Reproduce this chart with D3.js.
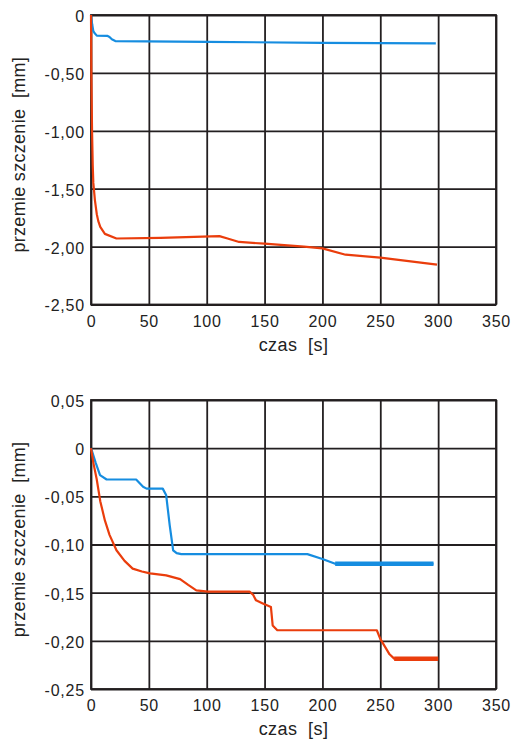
<!DOCTYPE html>
<html>
<head>
<meta charset="utf-8">
<script src="https://cdn.jsdelivr.net/npm/d3@7"></script>
<style>
    html, body { margin: 0; padding: 0; background: #fff; }
    svg { display: block; }
</style>
</head>
<body>
<div id="chart"></div>
<script>
// os czasu, wspolna dla obu wykresow
const timeTicks = [0, 50, 100, 150, 200, 250, 300, 350];

// wykres gorny
const topTicks = [0, -0.5, -1.0, -1.5, -2.0, -2.5];
const topBlue = [
    [0, 0], [1, -0.08], [2, -0.14], [3.4, -0.16], [5, -0.178], [14, -0.18],
    [16, -0.19], [18, -0.21], [21, -0.225], [100, -0.232], [200, -0.24], [298, -0.245]
];
const topRed = [
    [0, 0], [0.3, -0.5], [0.9, -1.0], [1.5, -1.3], [2, -1.45], [3.4, -1.6],
    [5, -1.72], [6.3, -1.78], [8, -1.83], [12, -1.89], [22, -1.93], [60, -1.925],
    [111, -1.91], [118, -1.93], [128, -1.96], [150, -1.975], [184, -2.0],
    [200, -2.015], [220, -2.07], [250, -2.095], [299, -2.155]
];

// wykres dolny
const bottomTicks = [0.05, 0, -0.05, -0.10, -0.15, -0.20, -0.25];
const bottomBlue = [
    [0, 0], [4, -0.015], [7.8, -0.028], [13.5, -0.0325], [39, -0.0325], [45, -0.04],
    [48, -0.042], [62, -0.042], [65, -0.049], [68, -0.08], [71, -0.106], [74, -0.109],
    [78, -0.11], [187, -0.11], [200, -0.115], [211, -0.12], [296, -0.12]
];
const bottomRed = [
    [0, 0], [2, -0.015], [4.9, -0.032], [8, -0.055], [12, -0.075], [16, -0.09],
    [22, -0.106], [29, -0.117], [36, -0.125], [44, -0.128], [51, -0.13], [65, -0.132],
    [77, -0.136], [84, -0.142], [91, -0.1477], [101, -0.149], [137, -0.149],
    [140, -0.152], [142.6, -0.158], [148, -0.161], [155.5, -0.165], [157, -0.184],
    [161, -0.189], [247, -0.189], [250, -0.198], [254, -0.206], [258, -0.214],
    [262, -0.2185], [300, -0.2185]
];

const width = 512;
const height = 742;
const blue = '#168de0';
const red = '#ea3d0c';
const gridColor = '#231f20';
const font = '"Liberation Sans", Arial, sans-serif';

const plEN = d3.formatLocale({ decimal: ',', thousands: ' ', grouping: [3], currency: ['', ' zł'], minus: '-' });
const fmt2 = plEN.format('.2f');
const yFormat = v => Math.abs(v) < 1e-9 ? '0' : fmt2(v);

const svg = d3.select('#chart').append('svg')
    .attr('width', width)
    .attr('height', height)
    .attr('viewBox', [0, 0, width, height]);

svg.append('rect').attr('width', width).attr('height', height).attr('fill', '#fff');

function drawPanel({ top, bottom, yTicks, series, thickFrom }) {
    const left = 91, right = 496;
    const x = d3.scaleLinear().domain([0, 350]).range([left, right]);
    const y = d3.scaleLinear().domain(d3.extent(yTicks)).range([bottom, top]);
    const g = svg.append('g');

    // siatka + opisy osi X
    g.append('g')
        .attr('transform', `translate(0,${bottom})`)
        .call(d3.axisBottom(x).tickValues(timeTicks).tickSize(-(bottom - top)).tickPadding(11).tickFormat(d3.format('d')))
        .call(a => {
            a.select('.domain').remove();
            a.selectAll('.tick line').attr('stroke', gridColor).attr('stroke-width', 1.8);
            a.selectAll('.tick text')
                .attr('fill', '#222')
                .attr('font-family', font)
                .attr('font-size', 16)
                .attr('letter-spacing', 0.8);
        });

    // siatka + opisy osi Y
    g.append('g')
        .attr('transform', `translate(${left},0)`)
        .call(d3.axisLeft(y).tickValues(yTicks).tickSize(-(right - left)).tickPadding(6).tickFormat(yFormat))
        .call(a => {
            a.select('.domain').remove();
            a.selectAll('.tick line').attr('stroke', gridColor).attr('stroke-width', 1.8);
            a.selectAll('.tick text')
                .attr('fill', '#222')
                .attr('font-family', font)
                .attr('font-size', 16)
                .attr('letter-spacing', 0.8)
                .attr('dy', '0.4em');
        });

    g.append('rect')
        .attr('x', left).attr('y', top)
        .attr('width', right - left).attr('height', bottom - top)
        .attr('fill', 'none')
        .attr('stroke', gridColor)
        .attr('stroke-width', 1.8);

    const line = d3.line().x(d => x(d[0])).y(d => y(d[1]));

    series.forEach(s => {
        g.append('path')
            .attr('d', line(s.data))
            .attr('fill', 'none')
            .attr('stroke', s.color)
            .attr('stroke-width', 2.2)
            .attr('stroke-linejoin', 'round');
        // koncowe odcinki sa grubsze (nakladajace sie pomiary)
        if (s.thickFrom != null) {
            g.append('path')
                .attr('d', line(s.data.filter(d => d[0] >= s.thickFrom)))
                .attr('fill', 'none')
                .attr('stroke', s.color)
                .attr('stroke-width', 4.5);
        }
    });

    g.append('text')
        .attr('x', (left + right) / 2)
        .attr('y', bottom + 46)
        .attr('text-anchor', 'middle')
        .attr('font-family', font)
        .attr('font-size', 18)
        .attr('letter-spacing', 0.4)
        .attr('fill', '#222')
        .style('white-space', 'pre')
        .text('czas  [s]');

    const cy = (top + bottom) / 2 - 5;
    g.append('text')
        .attr('transform', `translate(25,${cy}) rotate(-90)`)
        .attr('text-anchor', 'middle')
        .attr('font-family', font)
        .attr('font-size', 18)
        .attr('letter-spacing', 0.3)
        .attr('fill', '#222')
        .style('white-space', 'pre')
        .text('przemie szczenie  [mm]');
}

drawPanel({
    top: 15, bottom: 304.5,
    yTicks: topTicks,
    series: [
        { data: topBlue, color: blue },
        { data: topRed, color: red }
    ]
});

drawPanel({
    top: 400, bottom: 689,
    yTicks: bottomTicks,
    series: [
        { data: bottomBlue, color: blue, thickFrom: 211 },
        { data: bottomRed, color: red, thickFrom: 262 }
    ]
});
</script>
</body>
</html>
